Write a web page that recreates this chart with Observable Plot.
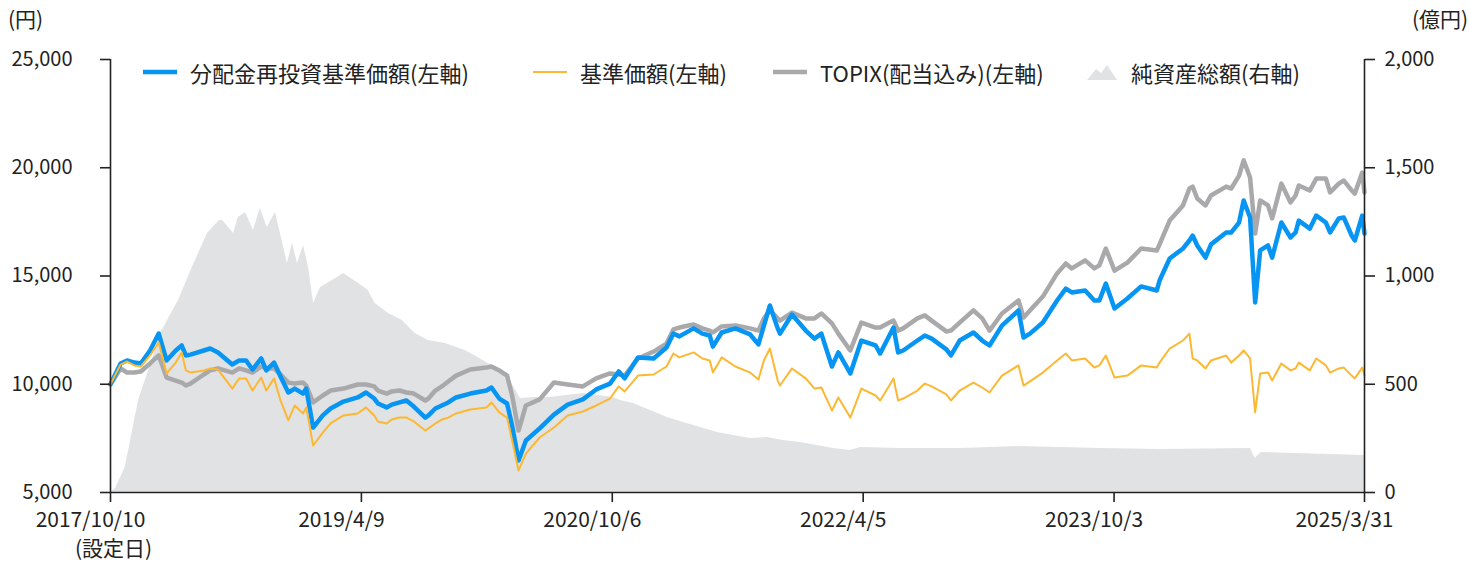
<!DOCTYPE html>
<html><head><meta charset="utf-8">
<script src="https://cdn.jsdelivr.net/npm/d3@7"></script>
<script src="https://cdn.jsdelivr.net/npm/@observablehq/plot@0.6"></script>
<style>
html,body{margin:0;padding:0;background:#fff;overflow:hidden}
#wrap{position:relative;width:1469px;height:563px;overflow:hidden;font-family:"Noto Sans CJK JP","Noto Sans",sans-serif;color:#222}
.unit{position:absolute;font-size:21px;line-height:21px;white-space:nowrap}
.item{position:absolute;top:60px;height:24px;display:flex;align-items:center;font-size:22px;white-space:nowrap;color:#222}
.sw{display:inline-block;width:34px;margin-right:13px}
</style></head>
<body><div id="wrap"></div>
<script>
// ---- data ----
const dates = ["2017-10-10","2017-11-01","2017-11-15","2017-12-01","2017-12-15","2018-01-04","2018-01-23","2018-02-09","2018-03-01","2018-03-14","2018-03-23","2018-04-02","2018-05-01","2018-05-15","2018-06-01","2018-07-02","2018-07-17","2018-08-01","2018-08-15","2018-09-03","2018-09-14","2018-10-01","2018-10-15","2018-11-01","2018-11-15","2018-12-03","2018-12-10","2018-12-25","2019-01-15","2019-02-01","2019-03-01","2019-04-01","2019-04-19","2019-05-07","2019-05-15","2019-06-03","2019-06-14","2019-07-01","2019-07-16","2019-08-01","2019-08-26","2019-09-02","2019-09-17","2019-10-01","2019-10-15","2019-11-01","2019-12-02","2020-01-06","2020-01-17","2020-02-03","2020-02-20","2020-03-02","2020-03-16","2020-04-01","2020-05-01","2020-06-01","2020-07-01","2020-08-03","2020-09-01","2020-10-01","2020-10-20","2020-11-02","2020-12-01","2021-01-04","2021-02-01","2021-02-16","2021-03-01","2021-04-01","2021-04-20","2021-05-06","2021-05-13","2021-06-01","2021-07-01","2021-08-02","2021-08-20","2021-09-01","2021-09-14","2021-10-01","2021-10-06","2021-11-01","2021-12-01","2021-12-20","2022-01-04","2022-01-27","2022-02-10","2022-03-08","2022-04-01","2022-05-02","2022-05-12","2022-06-01","2022-06-10","2022-06-20","2022-07-01","2022-08-01","2022-08-17","2022-09-01","2022-10-03","2022-10-13","2022-11-01","2022-12-01","2022-12-20","2023-01-05","2023-02-01","2023-03-09","2023-03-20","2023-04-03","2023-05-01","2023-06-01","2023-06-20","2023-07-03","2023-08-01","2023-08-21","2023-09-01","2023-09-15","2023-10-04","2023-11-01","2023-12-01","2024-01-04","2024-01-10","2024-02-01","2024-03-01","2024-03-15","2024-03-22","2024-04-01","2024-04-19","2024-05-01","2024-06-03","2024-06-14","2024-07-01","2024-07-11","2024-07-25","2024-08-05","2024-08-16","2024-09-02","2024-09-11","2024-10-01","2024-10-21","2024-11-01","2024-11-08","2024-12-02","2024-12-16","2025-01-06","2025-01-15","2025-02-03","2025-02-14","2025-03-03","2025-03-10","2025-03-26","2025-03-31"];

// 分配金再投資基準価額 (円)
const navReinvest = [10000,10960,11100,11000,10960,11560,12340,11100,11560,11790,11330,11370,11560,11650,11470,10910,11100,11100,10680,11190,10640,11000,10360,9620,9800,9570,9800,8000,8560,8880,9200,9390,9620,9340,9110,8930,9060,9160,9250,8970,8460,8560,8880,9020,9160,9390,9570,9710,9850,9340,9110,8090,6480,7400,7960,8600,9060,9300,9760,10030,10590,10270,11240,11190,11700,12340,12210,12580,12340,12250,11740,12390,12580,12300,11840,12710,13640,12580,12340,13220,12480,12110,12340,10820,11470,10500,12020,11790,11420,12250,12620,11470,11560,12020,12250,12110,11610,11330,12020,12390,12020,11790,12710,13410,12160,12340,12850,13870,14420,14240,14330,13870,13870,14650,13500,13960,14520,14330,14790,15810,16270,16640,16870,16410,15850,16460,17010,17010,17470,18490,17700,13780,16180,16410,15850,17470,16780,17010,17560,17190,17790,17470,17010,17660,17700,16870,16640,17790,16960];

// 基準価額 (円)
const nav = [10000,10910,11050,10870,10820,11330,11930,10500,11000,11470,10640,10540,10640,10730,10680,9800,10270,10270,9710,10310,9710,10270,9250,8330,9020,8650,8930,7170,7770,8190,8560,8650,8930,8560,8280,8190,8370,8460,8460,8280,7860,7960,8190,8370,8460,8650,8830,8930,9160,8700,8460,7400,6020,6800,7540,8000,8560,8740,9020,9340,9900,9670,10400,10450,10820,11420,11240,11470,11190,11100,10540,11240,10820,10540,10220,11100,11650,10170,9940,10730,10270,9800,9850,8790,9390,8460,9800,9480,9250,9940,10270,9250,9340,9710,10030,9900,9530,9250,9710,10080,9850,9620,10400,10870,9940,10130,10540,11100,11420,11100,11190,10770,10870,11330,10310,10400,10870,10770,11000,11650,12020,12340,11190,11100,10730,11100,11330,11000,11330,11560,11190,8700,10500,10540,10170,10960,10640,10730,11000,10640,11190,10870,10540,10730,10770,10400,10270,10770,10400];

// TOPIX(配当込み) (円換算)
const topix = [10000,10730,10540,10540,10590,10960,11330,10310,10170,10080,9940,10030,10450,10640,10730,10540,10730,10640,10540,10820,10730,10730,10450,10080,10030,10080,9940,9160,9480,9710,9800,9990,9990,9900,9710,9570,9670,9710,9620,9570,9250,9340,9710,9900,10130,10400,10680,10770,10820,10640,10400,9480,7860,9020,9300,10080,9990,9900,10270,10500,10450,10400,11190,11510,11880,12530,12620,12760,12580,12480,12390,12670,12710,12580,12480,13040,13410,13040,12940,13310,13040,13040,13270,12810,12340,11560,12850,12620,12620,12850,12940,12480,12580,13040,13180,12940,12440,12480,12850,13410,13040,12480,13270,13870,13080,13410,14050,15120,15580,15350,15720,15350,15490,16270,15250,15620,16270,16180,16460,17560,18260,19040,19130,18580,18260,18720,19130,19040,19640,20340,19550,16960,18490,18260,17660,19270,18400,18720,19180,18950,19500,19500,18860,19270,19410,18950,18810,19780,18860];

// 純資産総額 (億円)
const assetDates = ["2017-10-10","2017-10-21","2017-11-11","2017-12-10","2018-01-01","2018-01-27","2018-02-17","2018-03-07","2018-04-06","2018-05-09","2018-06-04","2018-06-11","2018-07-05","2018-07-15","2018-07-31","2018-08-17","2018-09-01","2018-09-16","2018-10-04","2018-10-30","2018-11-10","2018-11-21","2018-12-04","2018-12-15","2018-12-26","2019-01-10","2019-02-05","2019-03-01","2019-04-03","2019-04-24","2019-05-09","2019-06-07","2019-07-07","2019-08-04","2019-09-02","2019-10-09","2019-11-21","2019-12-19","2020-01-10","2020-02-05","2020-02-27","2020-03-20","2020-04-17","2020-05-24","2020-08-04","2020-10-08","2020-10-24","2020-11-21","2020-12-28","2021-02-03","2021-03-10","2021-04-16","2021-05-23","2021-06-27","2021-08-03","2021-09-09","2021-10-13","2021-11-19","2021-12-26","2022-01-30","2022-03-08","2022-03-30","2022-06-25","2022-11-03","2023-03-09","2023-09-03","2024-01-12","2024-07-26","2024-08-05","2024-08-18","2025-03-31"];
const netAssets = [0,18,115,425,564,734,818,887,1039,1196,1256,1256,1196,1270,1293,1210,1312,1224,1293,1058,1150,1058,1141,1039,873,947,979,1011,965,933,873,827,794,734,702,688,656,624,596,570,517,434,439,439,457,439,425,411,379,346,323,300,277,263,249,254,240,231,217,203,194,208,203,203,212,203,199,203,157,185,171];

// axes
const yTicks = [5000, 10000, 15000, 20000, 25000];     // 左軸 (円)
const yTicksRight = [0, 500, 1000, 1500, 2000];         // 右軸 (億円)
const xTickDates = ["2017-10-10","2019-04-09","2020-10-06","2022-04-05","2023-10-03","2025-03-31"];
const xTickLabels = ["2017/10/10","2019/4/9","2020/10/6","2022/4/5","2023/10/3","2025/3/31"];

const series = [
  {key:"topix", name:"TOPIX(配当込み)(左軸)", color:"#a9a9ab", width:4.5},
  {key:"navReinvest", name:"分配金再投資基準価額(左軸)", color:"#0795f4", width:4.5},
  {key:"nav", name:"基準価額(左軸)", color:"#fcb833", width:2}
];

// ---- build tables ----
const parse = d3.utcParse("%Y-%m-%d");
const rows = dates.map((d, i) => ({date: parse(d), navReinvest: navReinvest[i], nav: nav[i], topix: topix[i]}));
const assetRows = assetDates.map((d, i) => ({date: parse(d), v: netAssets[i]}));
const tickDates = xTickDates.map(parse);

const yMin = yTicks[0], yMax = yTicks[yTicks.length - 1];
const rMax = yTicksRight[yTicksRight.length - 1];
const k = (yMax - yMin) / rMax; // right -> left
const toLeft = v => yMin + v * k;
const fromLeft = v => (v - yMin) / k;

const axisColor = "#222";
const chart = Plot.plot({
  width: 1469,
  height: 563,
  marginLeft: 110,
  marginRight: 105,
  marginTop: 59,
  marginBottom: 71,
  style: {fontFamily: '"Noto Sans CJK JP","Noto Sans",sans-serif', fontSize: "20px", color: axisColor, background: "#fff", overflow: "visible"},
  x: {type: "utc", domain: [tickDates[0], tickDates[tickDates.length - 1]]},
  y: {domain: [yMin, yMax]},
  marks: [
    Plot.areaY(assetRows, {x: "date", y1: yMin, y2: d => toLeft(d.v), fill: "#e1e2e4", curve: "linear"}),
    ...series.map(s => Plot.lineY(rows, {x: "date", y: s.key, stroke: s.color, strokeWidth: s.width, strokeLinejoin: "round", curve: "linear"})),
    Plot.ruleY([yMin], {stroke: axisColor, strokeWidth: 1.6}),
    Plot.ruleX([tickDates[0], tickDates[tickDates.length - 1]], {stroke: axisColor, strokeWidth: 1.6}),
    Plot.axisY({ticks: yTicks, tickSize: 10, tickPadding: 28, tickFormat: d3.format(","), label: null, strokeWidth: 1.6, fontSize: 20}),
    Plot.axisY({anchor: "right", ticks: yTicks, tickSize: 10, tickPadding: 10, tickFormat: d => d3.format(",")(fromLeft(d)), label: null, strokeWidth: 1.6, fontSize: 20}),
    Plot.axisX({ticks: tickDates, tickSize: 10, tickFormat: () => "", label: null, strokeWidth: 1.6}),
    Plot.text(tickDates, {x: d => d, text: (d, i) => xTickLabels[i], frameAnchor: "bottom", dy: 34, dx: -20, fontSize: 21, fill: axisColor}),
    Plot.text([tickDates[0]], {x: d => d, text: () => "(設定日)", frameAnchor: "bottom", dy: 63, dx: 3, fontSize: 21, fill: axisColor})
  ]
});

const wrap = document.getElementById("wrap");
wrap.appendChild(chart);

// unit labels
const u1 = document.createElement("div"); u1.className = "unit"; u1.style.left = "8px"; u1.style.top = "8px"; u1.textContent = "(円)"; wrap.appendChild(u1);
const u2 = document.createElement("div"); u2.className = "unit"; u2.style.left = "1412px"; u2.style.top = "8px"; u2.textContent = "(億円)"; wrap.appendChild(u2);

// legend (inside plot area)
const legendItems = [
  {name: series[1].name, color: series[1].color, width: series[1].width, left: 143},
  {name: series[2].name, color: series[2].color, width: series[2].width, left: 533},
  {name: series[0].name, color: series[0].color, width: series[0].width, left: 773},
  {name: "純資産総額(右軸)", area: "#e1e2e4", left: 1087}
];
for (const it of legendItems) {
  const el = document.createElement("div");
  el.className = "item";
  el.style.left = it.left + "px";
  const sw = it.area
    ? `<svg class="sw" width="30" height="16" style="width:30px;margin-right:14px"><polygon points="0,16 9,5 14,9 20,1 30,16" fill="${it.area}"/></svg>`
    : `<svg class="sw" width="34" height="8"><line x1="0" x2="34" y1="4" y2="4" stroke="${it.color}" stroke-width="${it.width}"/></svg>`;
  el.innerHTML = sw + `<span>${it.name}</span>`;
  wrap.appendChild(el);
}
</script></body></html>
